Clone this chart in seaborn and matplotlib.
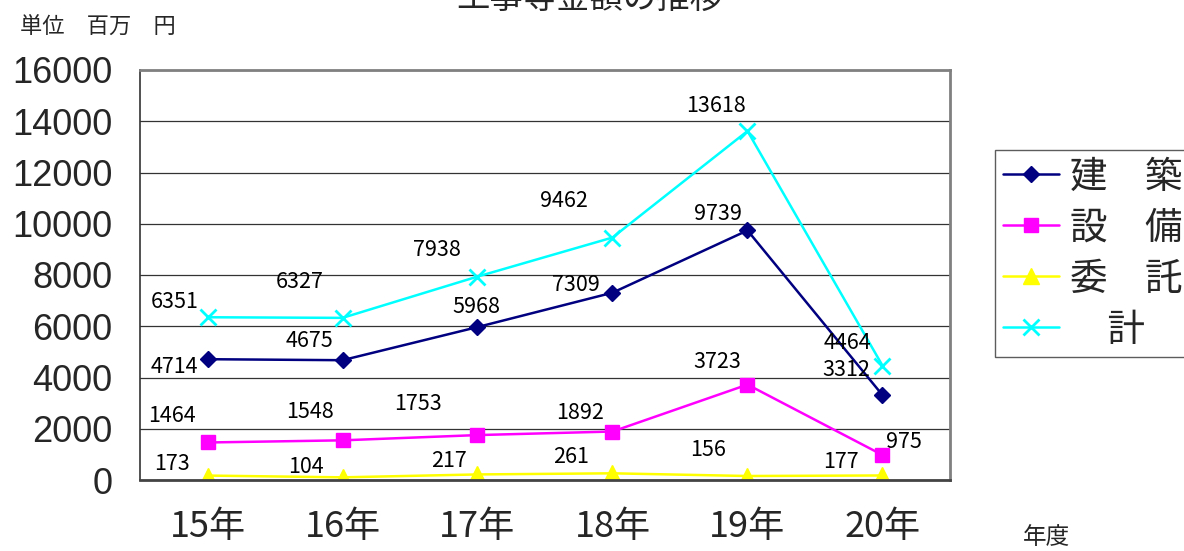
import matplotlib
matplotlib.use("Agg")
import matplotlib.pyplot as plt
import seaborn as sns
import pandas as pd

sns.set_theme(style="white")
plt.rcParams['font.family'] = ['Noto Sans CJK JP', 'DejaVu Sans']

years = ['15年', '16年', '17年', '18年', '19年', '20年']
kenchiku = [4714, 4675, 5968, 7309, 9739, 3312]
setsubi = [1464, 1548, 1753, 1892, 3723, 975]
itaku = [173, 104, 217, 261, 156, 177]
total = [6351, 6327, 7938, 9462, 13618, 4464]
series_names = ['建\u3000築', '設\u3000備', '委\u3000託', '\u3000計']

# label offsets in pixels (dx, dy) relative to each point
offsets = {
    '建\u3000築': [(-33, -8), (-33, 19), (-1, 20), (-37, 8), (-30, 16), (-36, 25)],
    '設\u3000備': [(-36, 26), (-33, 28), (-59, 31), (-32, 19), (-30, 23), (21, 13)],
    '委\u3000託': [(-36, 12), (-37, 10), (-29, 13), (-41, 16), (-39, 26), (-42, 13)],
    '\u3000計': [(-33, 15), (-43, 36), (-41, 27), (-49, 37), (-31, 25), (-35, 23)],
}
colors = ['#000080', '#FF00FF', '#FFFF00', '#00FFFF']
markers = ['D', 's', '^', 'x']
msizes = [8, 10, 11, 12]

df = pd.DataFrame({'year': years * 4,
                   'value': kenchiku + setsubi + itaku + total,
                   'series': [s for s in series_names for _ in years]})
df['x'] = [i for _ in series_names for i in range(len(years))]

fig = plt.figure(figsize=(11.84, 5.51), dpi=100)
ax = fig.add_axes([140 / 1184, 1 - 480 / 551, 810 / 1184, 410 / 551])

for name, c, m, ms in zip(series_names, colors, markers, msizes):
    sub = df[df['series'] == name]
    sns.lineplot(data=sub, x='x', y='value', ax=ax, color=c, marker=m,
                 markersize=ms, markeredgecolor=c, markeredgewidth=2 if m == 'x' else 1,
                 linewidth=1.8, label=name, legend=False)
    for (xi, v), (dx, dy) in zip(zip(sub['x'], sub['value']), offsets[name]):
        ax.annotate(str(v), (xi, v), xytext=(dx * 0.72, dy * 0.72), textcoords='offset points',
                    ha='center', va='center', fontsize=15.5, color='black', zorder=10)

ax.set_xlim(-0.5, 5.5)
ax.set_ylim(0, 16000)
ax.set_yticks(range(0, 16001, 2000))
ax.set_yticklabels([str(v) for v in range(0, 16001, 2000)], fontsize=26,
                   family=['Liberation Sans', 'DejaVu Sans'])
ax.set_xticks(range(len(years)))
ax.set_xticklabels(years, fontsize=26)
ax.set_xticks([i - 0.5 for i in range(len(years) + 1)], minor=True)
ax.tick_params(axis='x', which='major', length=0, pad=21)
ax.tick_params(axis='x', which='minor', direction='in', length=6, color='#808080', width=1)
ax.tick_params(axis='y', which='major', length=0, pad=20)
ax.set_xlabel('')
ax.set_ylabel('')
ax.grid(axis='y', color='#333333', linewidth=0.9)
ax.set_axisbelow(True)
ax.spines['left'].set_color('#333333')
ax.spines['left'].set_linewidth(1.2)
for s in ['top', 'right', 'bottom']:
    ax.spines[s].set_color('#808080')
    ax.spines[s].set_linewidth(2)
ax.spines['bottom'].set_color('#444444')

leg_handles, leg_labels = ax.get_legend_handles_labels()
leg = fig.legend(leg_handles, leg_labels, loc='upper left',
                 bbox_to_anchor=(995 / 1184, 1 - 150 / 551), fontsize=27,
                 frameon=True, fancybox=False, handlelength=1.5, handletextpad=0.3,
                 labelspacing=0.32, borderpad=0.2, borderaxespad=0)
leg.get_frame().set_edgecolor('#333333')
leg.get_frame().set_linewidth(1)

fig.text(20 / 1184, 1 - 27 / 551, '単位\u3000百万\u3000円', fontsize=16, va='center', ha='left')
fig.text(1047 / 1184, 1 - 537 / 551, '年度', fontsize=17, va='center', ha='center')
fig.text(590 / 1184, 1 + 2 / 551, '工事等金額の推移', fontsize=24, va='center', ha='center')

fig.savefig('out.png', dpi=100)
